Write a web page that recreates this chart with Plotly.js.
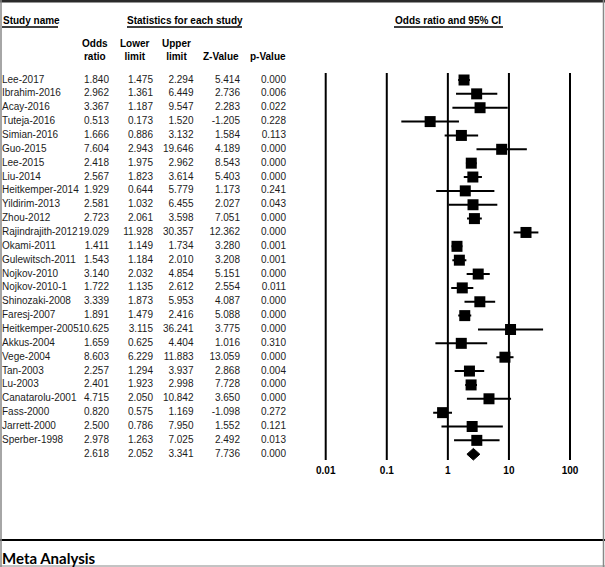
<!DOCTYPE html>
<html><head><meta charset="utf-8">
<script src="https://cdn.plot.ly/plotly-3.0.1.min.js"></script>
<style>html,body{margin:0;padding:0;background:#fff;}#chart{width:605px;height:567px;}</style>
</head><body><div id="chart"></div>
<script>
// ---------------- data ----------------
const studies = ["Lee-2017","Ibrahim-2016","Acay-2016","Tuteja-2016","Simian-2016","Guo-2015","Lee-2015","Liu-2014","Heitkemper-2014","Yildirim-2013","Zhou-2012","Rajindrajith-2012","Okami-2011","Gulewitsch-2011","Nojkov-2010","Nojkov-2010-1","Shinozaki-2008","Faresj-2007","Heitkemper-2005","Akkus-2004","Vege-2004","Tan-2003","Lu-2003","Canatarolu-2001","Fass-2000","Jarrett-2000","Sperber-1998"];
const oddsRatio = [1.840,2.962,3.367,0.513,1.666,7.604,2.418,2.567,1.929,2.581,2.723,19.029,1.411,1.543,3.140,1.722,3.339,1.891,10.625,1.659,8.603,2.257,2.401,4.715,0.820,2.500,2.978];
const lowerLimit = [1.475,1.361,1.187,0.173,0.886,2.943,1.975,1.823,0.644,1.032,2.061,11.928,1.149,1.184,2.032,1.135,1.873,1.479,3.115,0.625,6.229,1.294,1.923,2.050,0.575,0.786,1.263];
const upperLimit = [2.294,6.449,9.547,1.520,3.132,19.646,2.962,3.614,5.779,6.455,3.598,30.357,1.734,2.010,4.854,2.612,5.953,2.416,36.241,4.404,11.883,3.937,2.998,10.842,1.169,7.950,7.025];
const zValue = [5.414,2.736,2.283,-1.205,1.584,4.189,8.543,5.403,1.173,2.027,7.051,12.362,3.280,3.208,5.151,2.554,4.087,5.088,3.775,1.016,13.059,2.868,7.728,3.650,-1.098,1.552,2.492];
const pValue = [0.000,0.006,0.022,0.228,0.113,0.000,0.000,0.000,0.241,0.043,0.000,0.000,0.001,0.001,0.000,0.011,0.000,0.000,0.000,0.310,0.000,0.004,0.000,0.000,0.272,0.121,0.013];
const summaryOR = 2.618, summaryLower = 2.052, summaryUpper = 3.341, summaryZ = 7.736, summaryP = 0.000;
const tickVals = [0.01, 0.1, 1, 10, 100];
const tickLabels = ["0.01", "0.1", "1", "10", "100"];

// ---------------- layout helpers ----------------
const W = 605, H = 567;
const ROW0 = 80, ROWH = 13.86;
const px2row = p => (p - ROW0) / ROWH;
const py = p => 1 - p / H;
const pxX = p => p / W;
const fmt = v => v.toFixed(3);
const FONT = "Liberation Sans, Arial, sans-serif";
const TXT = "#1c1c1c";

const rows = studies.map((_, i) => i);
const sumRow = studies.length;
const allRows = rows.concat([sumRow]);

const traces = [];
// study names
traces.push({
  x: studies.map(() => 2), y: rows, text: studies, mode: "text", textposition: "middle right",
  textfont: {family: FONT, size: 10, color: TXT}, xaxis: "x", yaxis: "y", hoverinfo: "skip", cliponaxis: false, showlegend: false
});
function column(values, xRight) {
  traces.push({
    x: values.map(() => xRight), y: allRows, text: values.map(fmt), mode: "text", textposition: "middle left",
    textfont: {family: FONT, size: 10, color: TXT}, xaxis: "x", yaxis: "y", hoverinfo: "skip", cliponaxis: false, showlegend: false
  });
}
column(oddsRatio.concat([summaryOR]), 109);
column(lowerLimit.concat([summaryLower]), 153);
column(upperLimit.concat([summaryUpper]), 193.5);
column(zValue.concat([summaryZ]), 240);
column(pValue.concat([summaryP]), 286);

// forest squares with CI
traces.push({
  x: oddsRatio, y: rows, xaxis: "x2", yaxis: "y", mode: "markers",
  marker: {symbol: "square", size: 11, color: "#000"},
  error_x: {type: "data", symmetric: false,
    array: upperLimit.map((u, i) => u - oddsRatio[i]),
    arrayminus: oddsRatio.map((o, i) => o - lowerLimit[i]),
    color: "#000", thickness: 2, width: 0},
  hoverinfo: "skip", cliponaxis: false, showlegend: false
});
// summary diamond
const dh = 0.42;
traces.push({
  x: [summaryLower, summaryOR, summaryUpper, summaryOR, summaryLower],
  y: [sumRow, sumRow - dh, sumRow, sumRow + dh, sumRow],
  xaxis: "x2", yaxis: "y", mode: "lines", fill: "toself", fillcolor: "#000",
  line: {color: "#000", width: 1}, hoverinfo: "skip", showlegend: false
});

// shapes
const shapes = [];
tickVals.forEach(v => shapes.push({type: "line", xref: "x2", yref: "paper", x0: v, x1: v, y0: py(460), y1: py(73), line: {color: "#000", width: 2}, layer: "below"}));
function hline(x0, x1, y, color, width) {
  shapes.push({type: "line", xref: "paper", yref: "paper", x0: pxX(x0), x1: pxX(x1), y0: py(y), y1: py(y), line: {color, width}});
}
hline(2, 58, 27, "#000", 1.6);
hline(127, 242, 27, "#000", 1.6);
hline(394, 503, 27, "#000", 1.6);
hline(0, 605, 540, "#000", 2);
hline(0, 605, 566, "#888", 1);
shapes.push({type: "rect", xref: "paper", yref: "paper", x0: 0, x1: 1, y0: py(2.5), y1: 1, fillcolor: "#2a2a2a", line: {width: 0}});
shapes.push({type: "line", xref: "paper", yref: "paper", x0: pxX(1), x1: pxX(1), y0: 0, y1: 1, line: {color: "#888", width: 1.5}});
shapes.push({type: "line", xref: "paper", yref: "paper", x0: pxX(603.5), x1: pxX(603.5), y0: 0, y1: 1, line: {color: "#888", width: 1.5}});

// annotations
const ann = [];
function label(text, x, y, anchor, size, family) {
  ann.push({text, xref: "paper", yref: "paper", x: pxX(x), y: py(y), xanchor: anchor, yanchor: "middle", showarrow: false,
    font: {family: family || FONT, size: size || 10, color: "#000"}, borderpad: 0});
}
label("<b>Study name</b>", 2, 20.7, "left");
label("<b>Statistics for each study</b>", 185, 20.7, "center");
label("<b>Odds ratio and 95% CI</b>", 448, 20.7, "center");
label("<b>Odds</b><br><b>ratio</b>", 95, 50.5, "center");
label("<b>Lower</b><br><b>limit</b>", 134.5, 50.5, "center");
label("<b>Upper</b><br><b>limit</b>", 176.5, 50.5, "center");
label("<b>Z-Value</b>", 221, 56.7, "center");
label("<b>p-Value</b>", 268, 56.7, "center");
label("<b>Meta Analysis</b>", 1, 557.5, "left", 15, "Lato, sans-serif");

const layout = {
  width: W, height: H, margin: {l: 0, r: 0, t: 0, b: 0, pad: 0},
  paper_bgcolor: "#fff", plot_bgcolor: "#fff", showlegend: false,
  xaxis: {domain: [0, 0.5], range: [0, 302.5], visible: false, fixedrange: true},
  xaxis2: {domain: [0.5, 1], type: "log", range: [-2.380, 2.573], anchor: "free", position: py(462.5),
    tickmode: "array", tickvals: tickVals, ticktext: tickLabels.map(t => "<b>" + t + "</b>"),
    tickfont: {family: FONT, size: 10, color: "#000"}, ticks: "", showgrid: false, zeroline: false, showline: false, fixedrange: true},
  yaxis: {range: [px2row(H), px2row(0)], visible: false, fixedrange: true},
  shapes, annotations: ann
};
Plotly.newPlot("chart", traces, layout, {staticPlot: true, displayModeBar: false});
</script>
</body></html>
